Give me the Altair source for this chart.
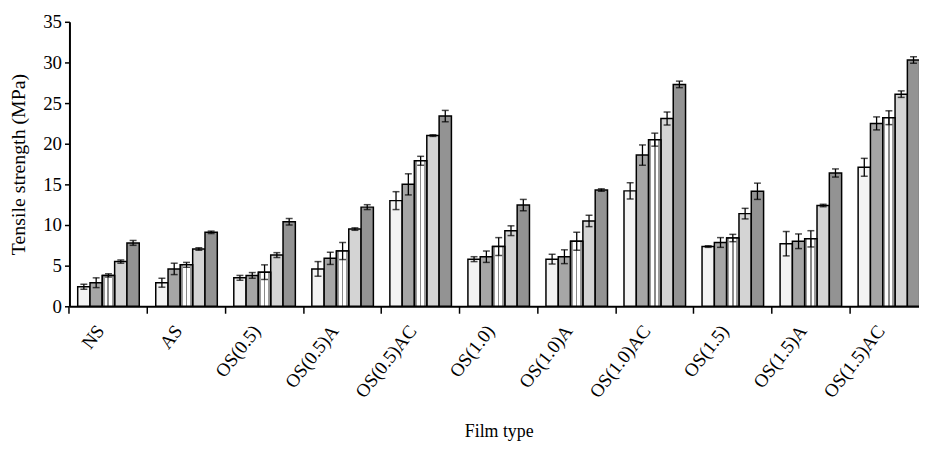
import altair as alt
import pandas as pd

film_types = ["NS", "AS", "OS(0.5)", "OS(0.5)A", "OS(0.5)AC", "OS(1.0)",
              "OS(1.0)A", "OS(1.0)AC", "OS(1.5)", "OS(1.5)A", "OS(1.5)AC"]
series = ["1", "2", "3", "4", "5"]

s1 = [2.4, 2.9, 3.5, 4.6, 13.0, 5.8, 5.8, 14.2, 7.35, 7.7, 17.1]
s2 = [2.9, 4.6, 3.8, 5.9, 15.0, 6.1, 6.1, 18.6, 7.85, 8.0, 22.5]
s3 = [3.8, 5.1, 4.2, 6.8, 17.9, 7.35, 8.0, 20.5, 8.4, 8.3, 23.2]
s4 = [5.5, 7.05, 6.3, 9.5, 21.0, 9.3, 10.5, 23.1, 11.4, 12.4, 26.1]
s5 = [7.8, 9.1, 10.4, 12.2, 23.4, 12.45, 14.3, 27.3, 14.15, 16.4, 30.3]

e1 = [0.3, 0.55, 0.3, 0.9, 1.1, 0.3, 0.6, 1.0, 0.1, 1.5, 1.1]
e2 = [0.6, 0.7, 0.35, 0.75, 1.3, 0.7, 0.85, 1.25, 0.6, 0.9, 0.8]
e3 = [0.2, 0.3, 0.9, 1.05, 0.55, 1.1, 1.1, 0.8, 0.45, 1.0, 0.85]
e4 = [0.2, 0.15, 0.3, 0.15, 0.1, 0.6, 0.7, 0.8, 0.65, 0.15, 0.4]
e5 = [0.3, 0.15, 0.4, 0.3, 0.7, 0.7, 0.15, 0.4, 1.0, 0.5, 0.4]

fills = ["#f3f3f3", "#a6a6a6", "#c8c8c8", "#d4d4d4", "#939393"]

rows = []
for s, vals, errs in zip(series, [s1, s2, s3, s4, s5], [e1, e2, e3, e4, e5]):
    for f, v, e in zip(film_types, vals, errs):
        rows.append({"film": f, "series": s, "value": v, "lo": v - e, "hi": v + e})
df = pd.DataFrame(rows)

FONT = "Liberation Serif"

x_enc = alt.X(
    "film:N",
    sort=film_types,
    scale=alt.Scale(domain=film_types, range=[0, 866], paddingInner=0, paddingOuter=0),
    axis=alt.Axis(
        title="Film type", bandPosition=0, labelAngle=-52, labelAlign="right",
        labelBaseline="middle", labelOffset=-8, labelPadding=14, tickSize=7,
        tickWidth=1.5, tickColor="black", domainColor="black", domainWidth=2,
        labelFont=FONT, labelFontSize=19, labelColor="black",
        titleFont=FONT, titleFontSize=18, titleFontWeight="normal", titleColor="black",
        titleY=131, titleBaseline="alphabetic",
    ),
)
xo_enc = alt.XOffset(
    "series:N",
    scale=alt.Scale(domain=series, paddingInner=0, paddingOuter=0.67),
)
y_axis = alt.Axis(
    title="Tensile strength (MPa)", values=list(range(0, 36, 5)), grid=False,
    tickSize=5, tickWidth=1.5, tickColor="black", domainColor="black", domainWidth=2,
    labelFont=FONT, labelFontSize=19, labelColor="black", labelPadding=3,
    titleFont=FONT, titleFontSize=20, titleFontWeight="normal", titleColor="black",
    titlePadding=14,
)
y_scale = alt.Scale(domain=[0, 35], nice=False)

base = alt.Chart(df)

bars = base.mark_bar(stroke="black", strokeWidth=1.5).encode(
    x=x_enc,
    xOffset=xo_enc,
    y=alt.Y("value:Q", scale=y_scale, axis=y_axis),
    fill=alt.Fill("series:N", scale=alt.Scale(domain=series, range=fills), legend=None),
)

stripe = alt.LinearGradient(
    gradient="linear", x1=0, y1=0, x2=1, y2=0,
    stops=[
        alt.GradientStop(offset=0.0, color="#9a9a9a"),
        alt.GradientStop(offset=0.22, color="#9a9a9a"),
        alt.GradientStop(offset=0.22, color="#ffffff"),
        alt.GradientStop(offset=0.42, color="#ffffff"),
        alt.GradientStop(offset=0.42, color="#8a8a8a"),
        alt.GradientStop(offset=0.56, color="#8a8a8a"),
        alt.GradientStop(offset=0.56, color="#ffffff"),
        alt.GradientStop(offset=0.76, color="#ffffff"),
        alt.GradientStop(offset=0.76, color="#9a9a9a"),
        alt.GradientStop(offset=1.0, color="#9a9a9a"),
    ],
)
bars3 = base.transform_filter(alt.datum.series == "3").mark_bar(
    stroke="black", strokeWidth=1.5, fill=stripe
).encode(x=x_enc, xOffset=xo_enc, y=alt.Y("value:Q", scale=y_scale))

rules = base.mark_rule(color="black", strokeWidth=1.3).encode(
    x=x_enc, xOffset=xo_enc,
    y=alt.Y("lo:Q", scale=y_scale), y2="hi:Q",
)
caps_hi = base.mark_tick(orient="horizontal", color="black", size=7, thickness=1.5).encode(
    x=x_enc, xOffset=xo_enc, y=alt.Y("hi:Q", scale=y_scale),
)
caps_lo = base.mark_tick(orient="horizontal", color="black", size=7, thickness=1.5).encode(
    x=x_enc, xOffset=xo_enc, y=alt.Y("lo:Q", scale=y_scale),
)

chart = alt.layer(bars, bars3, rules, caps_hi, caps_lo).properties(
    width=857, height=287,
    autosize=alt.AutoSizeParams(type="none"),
    padding={"left": 62, "top": 12, "right": 0, "bottom": 137},
    background="white",
).configure_view(stroke=None)

chart.save("out.html", embed_options={"renderer": "svg", "actions": False})
